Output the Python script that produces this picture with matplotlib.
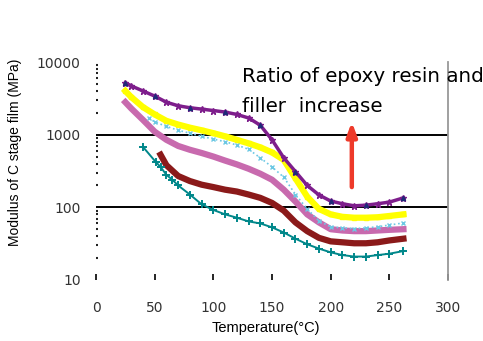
import numpy as np
import matplotlib
matplotlib.use("Agg")
import matplotlib.pyplot as plt

# temperature grid (deg C) for the longer curves
temp = [25, 30, 40, 50, 60, 70, 80, 90, 100, 110, 120, 130, 140, 150, 160,
        170, 180, 190, 200, 210, 220, 230, 240, 250, 262]

# modulus readings (MPa), top curve first
mod_purple = [5200, 4700, 4000, 3400, 2800, 2500, 2350, 2250, 2150, 2050, 1900, 1700,
              1350, 850, 480, 310, 200, 148, 122, 112, 105, 107, 112, 118, 135]
mod_yellow = [4000, 3300, 2400, 1900, 1550, 1380, 1250, 1150, 1050, 950, 850, 760,
              670, 570, 450, 250, 140, 95, 80, 74, 72, 72, 73, 76, 80]
mod_pink = [2800, 2300, 1600, 1100, 850, 700, 620, 560, 500, 440, 390, 340,
            290, 240, 175, 120, 80, 62, 50, 48, 47, 47, 48, 49, 50]

temp_cyan = [45, 50, 60, 70, 80, 90, 100, 110, 120, 130, 140, 150, 160, 170,
             180, 190, 200, 210, 220, 230, 240, 250, 262]
mod_cyan = [1700, 1500, 1300, 1150, 1050, 950, 870, 800, 720, 630, 480, 360, 260,
            150, 95, 65, 54, 52, 51, 52, 54, 57, 61]

temp_red = [55, 60, 70, 80, 90, 100, 110, 120, 130, 140, 150, 160, 170, 180,
            190, 200, 210, 220, 230, 240, 250, 262]
mod_red = [530, 380, 270, 230, 205, 190, 175, 165, 150, 135, 115, 90, 62, 47,
           38, 34, 33, 32, 32, 33, 35, 37]

temp_teal = [40, 51, 55, 60, 65, 70, 80, 90, 100, 110, 120, 130, 140, 150, 160,
             170, 180, 190, 200, 210, 220, 230, 240, 250, 262]
mod_teal = [680, 420, 360, 280, 240, 200, 150, 110, 92, 80, 72, 64, 60, 53, 45,
            37, 31, 27, 24, 22, 21, 21, 22, 23, 25]

x_ticks = [0, 50, 100, 150, 200, 250, 300]
y_ticks = [10, 100, 1000, 10000]
grid_levels = [100, 1000]

note_lines = ["Ratio of epoxy resin and", "filler  increase"]
arrow_temp, arrow_from, arrow_to = 218, 190, 1500

FONT = ["Liberation Sans", "DejaVu Sans"]


def main():
    fig = plt.figure(figsize=(4.83, 3.41), dpi=100)
    ax = fig.add_axes([0.1988, 0.179, 0.7288, 0.639])

    for lvl in grid_levels:
        ax.axhline(lvl, color="black", lw=1.4, zorder=1)

    # thick bands first, marker traces on top
    ax.plot(temp_red, mod_red, color="#8B1A1A", lw=4.5, zorder=2)
    ax.plot(temp, mod_pink, color="#C86AAE", lw=4.5, zorder=2)
    ax.plot(temp_teal, mod_teal, color="#00878A", lw=1.4, marker="+", ms=6,
            mew=1.4, zorder=3)
    ax.plot(temp, mod_yellow, color="#FFFF00", lw=4.5, marker="s", ms=3.5,
            zorder=3)
    ax.plot(temp_cyan, mod_cyan, color="#6CC8E4", lw=1.2, ls=":", marker="x",
            ms=3, mew=1, zorder=4)
    ax.plot(temp, mod_purple, color="#7E1E8C", lw=2.5, marker="*", ms=4.5,
            zorder=5)
    ax.plot(temp[::3], mod_purple[::3], ls="none", color="#1F2A78", marker="^",
            ms=3, zorder=6)

    ax.annotate("", xy=(arrow_temp, arrow_to), xytext=(arrow_temp, arrow_from),
                arrowprops=dict(arrowstyle="-|>,head_width=0.3,head_length=0.8",
                                color="#EE3A2A", lw=3.2, shrinkA=0, shrinkB=0),
                zorder=7)

    # wide-set note text, runs past the right edge like the original
    ax.text(0.415, 0.908, note_lines[0], transform=ax.transAxes, fontsize=14.3,
            family="DejaVu Sans", va="baseline", clip_on=False)
    ax.text(0.415, 0.771, note_lines[1], transform=ax.transAxes, fontsize=14.3,
            family="DejaVu Sans", va="baseline", clip_on=False)

    ax.set_yscale("log")
    ax.set_xlim(0, 300)
    ax.set_ylim(10, 10000)
    ax.set_xticks(x_ticks)
    ax.set_xticklabels([str(v) for v in x_ticks], family="DejaVu Sans",
                       fontsize=10, color="#333333")
    ax.set_yticks(y_ticks)
    ax.set_yticklabels([str(v) for v in y_ticks], family="DejaVu Sans",
                       fontsize=10, color="#333333")

    ax.tick_params(axis="x", direction="in", length=4, width=1.2, pad=15)
    ax.tick_params(axis="y", which="major", length=0, pad=11)
    ax.tick_params(axis="y", which="minor", direction="in", length=1.5,
                   width=1.5, color="#222222")
    ax.yaxis.set_minor_formatter(matplotlib.ticker.NullFormatter())

    for s in ["left", "top", "bottom"]:
        ax.spines[s].set_visible(False)
    ax.spines["right"].set_color("#999999")
    ax.spines["right"].set_linewidth(1.3)

    ax.set_xlabel("Temperature(°C)", family=FONT, fontsize=10.5)
    ax.xaxis.set_label_coords(0.483, -0.19)
    ax.set_ylabel("Modulus of C stage film (MPa)", family=FONT, fontsize=10)
    ax.yaxis.set_label_coords(-0.21, 0.587)

    fig.savefig("out.png", dpi=100)


if __name__ == "__main__":
    main()
